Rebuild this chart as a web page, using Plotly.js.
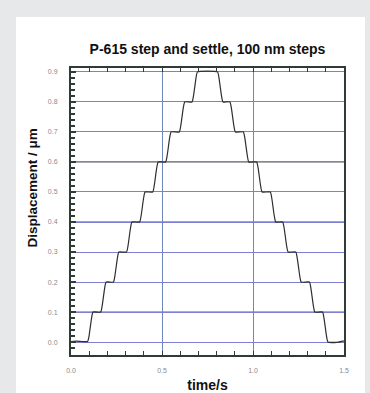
<!DOCTYPE html>
<html>
<head>
<meta charset="utf-8">
<script src="https://cdn.plot.ly/plotly-3.0.1.min.js"></script>
<style>
html,body{margin:0;padding:0;background:#e7e8ea;width:370px;height:393px;overflow:hidden;}
#panel{position:absolute;left:16px;top:17px;width:349px;height:376px;background:#ffffff;}
#chart{position:absolute;left:0;top:0;width:370px;height:393px;}
</style>
</head>
<body>
<div id="panel"></div>
<div id="chart"></div>
<script>
// time in seconds
var timeS = [
  0.000, 0.030, 0.060, 0.091,
  0.099, 0.113, 0.121, 0.163,
  0.171, 0.185, 0.193, 0.233,
  0.241, 0.255, 0.263, 0.305,
  0.313, 0.327, 0.335, 0.377,
  0.385, 0.399, 0.407, 0.449,
  0.457, 0.471, 0.479, 0.520,
  0.528, 0.542, 0.550, 0.595,
  0.603, 0.617, 0.625, 0.665,
  0.673, 0.687, 0.695, 0.805,
  0.813, 0.827, 0.835, 0.873,
  0.881, 0.895, 0.903, 0.947,
  0.955, 0.969, 0.977, 1.020,
  1.028, 1.042, 1.050, 1.095,
  1.103, 1.117, 1.125, 1.163,
  1.171, 1.185, 1.193, 1.235,
  1.243, 1.257, 1.265, 1.310,
  1.318, 1.332, 1.340, 1.382,
  1.390, 1.404, 1.412, 1.470,
  1.490, 1.500
];
// displacement in micrometres
var displacementUm = [
  0.002, 0.003, 0.002, 0.002,
  0.020, 0.080, 0.100, 0.100,
  0.120, 0.180, 0.200, 0.200,
  0.220, 0.280, 0.300, 0.300,
  0.320, 0.380, 0.400, 0.400,
  0.420, 0.480, 0.500, 0.500,
  0.520, 0.580, 0.600, 0.600,
  0.620, 0.680, 0.700, 0.700,
  0.720, 0.780, 0.800, 0.800,
  0.820, 0.880, 0.900, 0.900,
  0.880, 0.820, 0.800, 0.800,
  0.780, 0.720, 0.700, 0.700,
  0.680, 0.620, 0.600, 0.600,
  0.580, 0.520, 0.500, 0.500,
  0.480, 0.420, 0.400, 0.400,
  0.380, 0.320, 0.300, 0.300,
  0.280, 0.220, 0.200, 0.200,
  0.180, 0.120, 0.100, 0.100,
  0.080, 0.020, 0.000, 0.000,
  0.003, 0.003
];
var xTickVals = [0, 0.5, 1.0, 1.5];
var xTickText = ["0.0", "0.5", "1.0", "1.5"];
var yTickVals = [0.0, 0.1, 0.2, 0.3, 0.4, 0.5, 0.6, 0.7, 0.8, 0.9];
var yTickText = ["0.0", "0.1", "0.2", "0.3", "0.4", "0.5", "0.6", "0.7", "0.8", "0.9"];
var darkGridLevels = [0.1, 0.4, 0.6];

var sans = '"Liberation Sans", Arial, sans-serif';

var shapes = darkGridLevels.map(function (v) {
  return {type: 'line', xref: 'paper', x0: 0, x1: 1, yref: 'y', y0: v, y1: v,
          line: {color: '#4a4a58', width: 1}, layer: 'below'};
});

var trace = {
  x: timeS, y: displacementUm, type: 'scatter', mode: 'lines',
  line: {color: '#2e2e2e', width: 1.2, shape: 'spline', smoothing: 0.5},
  hoverinfo: 'skip'
};

var layout = {
  width: 370, height: 393,
  paper_bgcolor: 'rgba(0,0,0,0)', plot_bgcolor: 'rgba(0,0,0,0)',
  margin: {l: 71, r: 26, t: 68, b: 38, pad: 0},
  showlegend: false,
  title: {text: 'P-615 step and settle, 100 nm steps',
          font: {family: sans, size: 14, color: '#111111', weight: 'bold'},
          x: 0.5, xref: 'paper', xanchor: 'center', y: 0.875, yref: 'container', yanchor: 'middle'},
  xaxis: {
    range: [0, 1.5], tickvals: xTickVals, ticktext: xTickText,
    ticks: 'inside', ticklen: 4, tickwidth: 1, tickcolor: '#2f3b35',
    minor: {dtick: 0.1, tick0: 0, ticks: 'inside', ticklen: 4, tickwidth: 1, tickcolor: '#2f3b35', showgrid: false},
    showline: true, linewidth: 2, linecolor: '#2f3b35', mirror: 'ticks',
    showgrid: true, gridcolor: '#6f86ba', gridwidth: 1,
    zeroline: false,
    tickfont: {family: sans, size: 7, color: '#8a8a8a'},
    ticklabelstandoff: 8,
    title: {text: 'time/s', font: {family: sans, size: 14, color: '#111111', weight: 'bold'}, standoff: 7}
  },
  yaxis: {
    range: [-0.043, 0.913], tickvals: yTickVals, ticktext: yTickText,
    ticks: 'inside', ticklen: 5, tickwidth: 1.5, tickcolor: '#2f3b35',
    minor: {dtick: 0.02, tick0: 0, ticks: 'inside', ticklen: 4, tickwidth: 1.5, tickcolor: '#2f3b35', showgrid: false},
    showline: true, linewidth: 2, linecolor: '#2f3b35', mirror: true,
    showgrid: true, gridcolor: '#7d7fd2', gridwidth: 1,
    zeroline: false,
    tickfont: {family: sans, size: 7, color: '#8a8a8a'},
    ticklabelstandoff: 10
  },
  annotations: [{
    text: 'Displacement / μm', textangle: -90,
    xref: 'paper', x: 0, xshift: -38, xanchor: 'center',
    yref: 'paper', y: 0.58, yanchor: 'middle',
    showarrow: false,
    font: {family: sans, size: 13.5, color: '#111111', weight: 'bold'}
  }],
  shapes: shapes
};

Plotly.newPlot('chart', [trace], layout, {displayModeBar: false, staticPlot: true});
</script>
</body>
</html>
